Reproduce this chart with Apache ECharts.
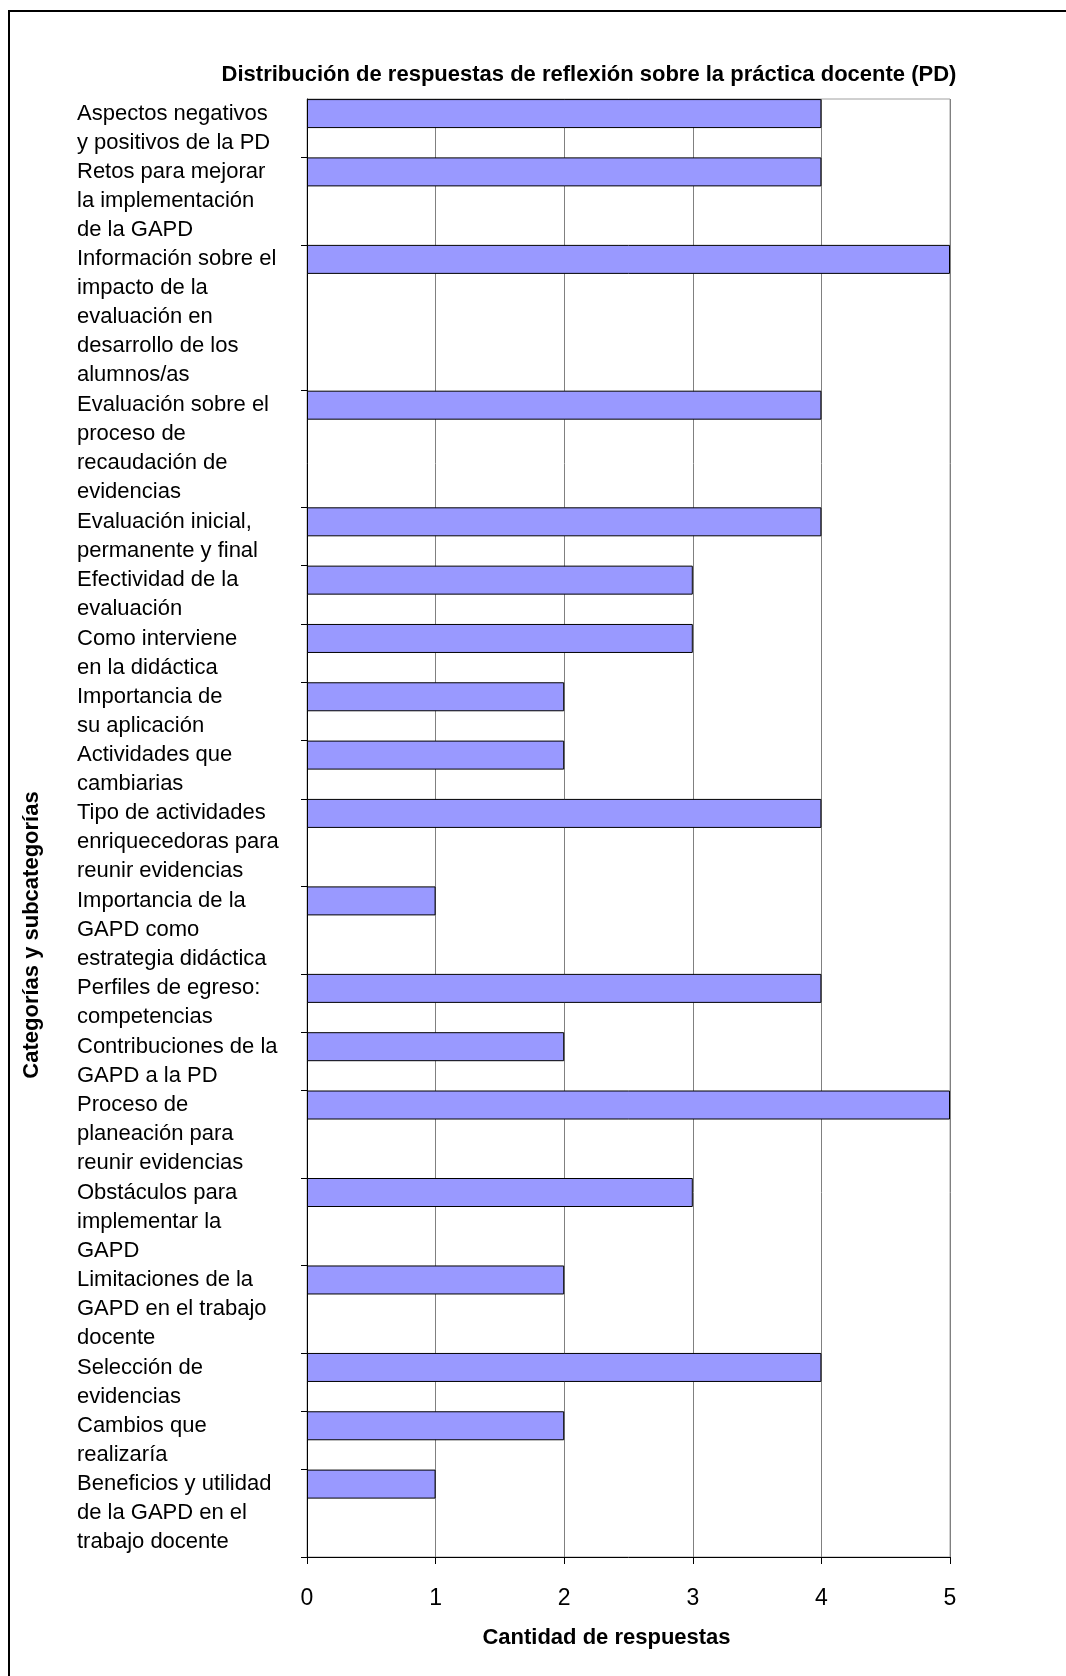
<!DOCTYPE html>
<html>
<head>
<meta charset="utf-8">
<script src="https://cdn.jsdelivr.net/npm/echarts@6/dist/echarts.min.js"></script>
<style>
  html, body { margin: 0; padding: 0; background: #fff; }
  #chart { width: 1066px; height: 1676px; }
</style>
</head>
<body>
<div id="chart"></div>
<script>
// categorías (de arriba hacia abajo), con los saltos de línea del original
const categories = [
  'Aspectos negativos\ny positivos de la PD',
  'Retos para mejorar\nla implementación\nde la GAPD',
  'Información sobre el\nimpacto de la\nevaluación en\ndesarrollo de los\nalumnos/as',
  'Evaluación sobre el\nproceso de\nrecaudación de\nevidencias',
  'Evaluación inicial,\npermanente y final',
  'Efectividad de la\nevaluación',
  'Como interviene\nen la didáctica',
  'Importancia de\nsu aplicación',
  'Actividades que\ncambiarias',
  'Tipo de actividades\nenriquecedoras para\nreunir evidencias',
  'Importancia de la\nGAPD como\nestrategia didáctica',
  'Perfiles de egreso:\ncompetencias',
  'Contribuciones de la\nGAPD a la PD',
  'Proceso de\nplaneación para\nreunir evidencias',
  'Obstáculos para\nimplementar la\nGAPD',
  'Limitaciones de la\nGAPD en el trabajo\ndocente',
  'Selección de\nevidencias',
  'Cambios que\nrealizaría',
  'Beneficios y utilidad\nde la GAPD en el\ntrabajo docente'
];
const values = [4, 4, 5, 4, 4, 3, 3, 2, 2, 4, 1, 4, 2, 5, 3, 2, 4, 2, 1];
const xTicks = [0, 1, 2, 3, 4, 5];

const FONT = "'Liberation Sans', Arial, sans-serif";

// cada categoría ocupa tantas filas como líneas tiene su etiqueta
const slotCat = [], slotFirst = [];
categories.forEach((c, i) => {
  const n = c.split('\n').length;
  for (let j = 0; j < n; j++) {
    slotCat.push(i);
    slotFirst.push(j === 0);
  }
});
const slotNames = slotCat.map((c, k) => 's' + k);
const barData = slotCat.map((c, k) => (slotFirst[k] ? values[c] : '-'));

const chart = echarts.init(document.getElementById('chart'));
chart.setOption({
  backgroundColor: '#fff',
  animation: false,
  textStyle: { fontFamily: FONT },
  title: {
    text: 'Distribución de respuestas de reflexión sobre la práctica docente (PD)',
    left: 584,
    top: 59,
    textAlign: 'center',
    textStyle: { fontFamily: FONT, fontWeight: 'bold', fontSize: 22, color: '#000' }
  },
  grid: {
    left: 307,
    right: 116,
    top: 99,
    bottom: 119,
    show: true,
    borderColor: '#a0a0a0',
    borderWidth: 1,
    outerBoundsMode: 'none'
  },
  xAxis: {
    type: 'value',
    min: xTicks[0],
    max: xTicks[xTicks.length - 1],
    interval: 1,
    name: 'Cantidad de respuestas',
    nameLocation: 'middle',
    nameGap: 70,
    nameTextStyle: { fontFamily: FONT, fontWeight: 'bold', fontSize: 22, color: '#000', padding: [0, 44, 0, 0] },
    axisLine: { show: true, lineStyle: { color: '#000', width: 1 } },
    axisTick: { show: true, length: 7, lineStyle: { color: '#000' } },
    axisLabel: { fontFamily: FONT, fontSize: 23, color: '#000', margin: 30 },
    splitLine: { show: true, lineStyle: { color: '#808080', width: 1 } }
  },
  yAxis: {
    type: 'category',
    inverse: true,
    data: slotNames,
    axisLine: { show: true, lineStyle: { color: '#000', width: 1 } },
    axisTick: {
      show: true,
      length: 6,
      interval: (idx) => idx > 0 && slotFirst[idx],
      lineStyle: { color: '#000' }
    },
    axisLabel: {
      interval: 0,
      align: 'left',
      margin: 230,
      fontFamily: FONT,
      fontSize: 22,
      lineHeight: 29,
      color: '#000',
      formatter: (val, idx) => {
        if (!slotFirst[idx]) return '';
        const txt = categories[slotCat[idx]];
        const n = txt.split('\n').length;
        // primera línea centrada en la barra
        return '\n'.repeat(n - 1) + txt;
      }
    },
    splitLine: { show: false }
  },
  series: [{
    type: 'bar',
    data: barData,
    barWidth: 29,
    itemStyle: { color: '#9999ff', borderColor: '#000', borderWidth: 1 }
  }],
  graphic: [
    {
      type: 'rect',
      shape: { x: 9, y: 11, width: 1200, height: 1800 },
      style: { fill: 'none', stroke: '#000', lineWidth: 2 },
      silent: true
    },
    {
      type: 'text',
      x: 32,
      y: 935,
      rotation: Math.PI / 2,
      style: {
        text: 'Categorías y subcategorías',
        fontFamily: FONT,
        fontWeight: 'bold',
        fontSize: 22,
        fill: '#000',
        align: 'center',
        verticalAlign: 'middle'
      }
    }
  ]
});
</script>
</body>
</html>
